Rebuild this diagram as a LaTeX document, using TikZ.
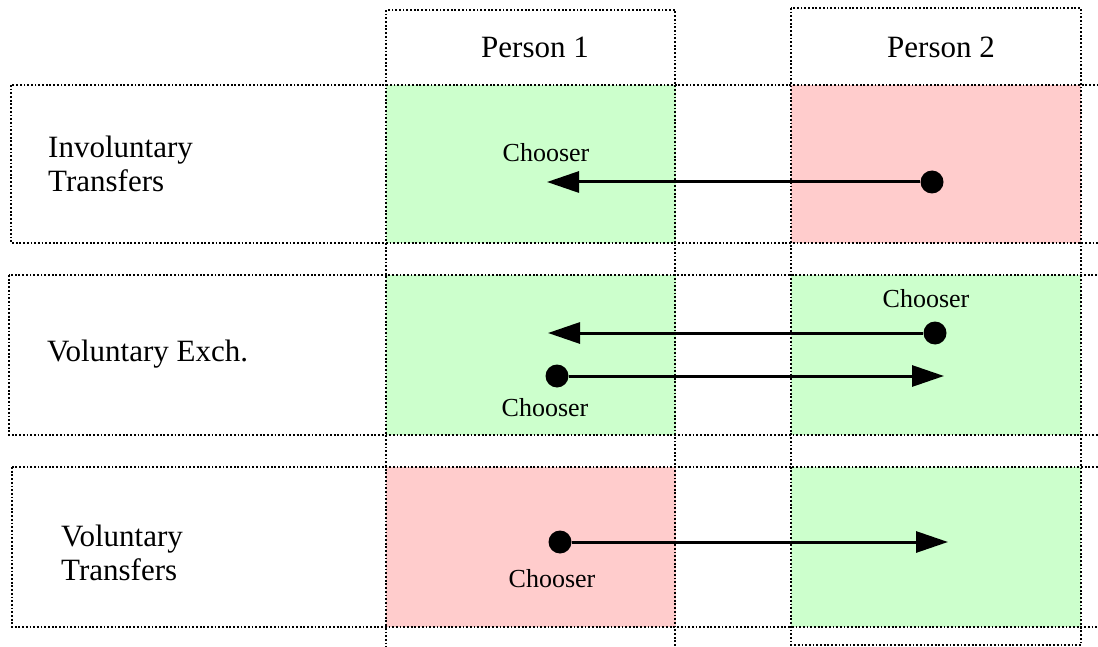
\documentclass[tikz,border=0pt]{standalone}
\usepackage{fontspec}
\setmainfont{Liberation Serif}
\usetikzlibrary{arrows.meta}
\definecolor{okgreen}{HTML}{CCFFCC}
\definecolor{badpink}{HTML}{FFCCCC}
\begin{document}
\begin{tikzpicture}[
    x=1pt, y=-1pt,
    frame/.style={draw, line width=1.8pt, dash pattern=on 1.8pt off 1.9pt},
    cell/.style={fill=#1, draw=none, inner sep=0pt, outer sep=0pt, anchor=north west, minimum width=290pt, minimum height=158pt},
    head/.style={font=\fontsize{31}{34}\selectfont, inner sep=0pt, anchor=base},
    rowlabel/.style={font=\fontsize{31}{34}\selectfont, align=left, inner sep=0pt, anchor=west},
    chooser/.style={font=\fontsize{26}{28}\selectfont, inner sep=0pt, anchor=base},
    dot/.style={circle, fill=black, inner sep=0pt, minimum size=23pt},
    arrow/.style={line width=3pt, -{Triangle[length=32pt, width=21pt]}}
]
    \useasboundingbox (0,0) rectangle (1098,647);

    \node [cell=okgreen]  (invA) at (386,85) {};
    \node [cell=badpink]  (invB) at (791,85) {};
    \node [cell=okgreen, minimum height=160pt]  (excA) at (386,275) {};
    \node [cell=okgreen, minimum height=160pt]  (excB) at (791,275) {};
    \node [cell=badpink, minimum height=160pt]  (volA) at (386,467) {};
    \node [cell=okgreen, minimum height=160pt]  (volB) at (791,467) {};

    \draw [frame] (386,10) rectangle (675,670);
    \draw [frame] (791,8) rectangle (1081,645);
    \draw [frame] (11,85) rectangle (1120,243);
    \draw [frame] (9,275) rectangle (1120,435);
    \draw [frame] (12,467) rectangle (1120,627);

    \node [head] (p1) at (535,58) {Person 1};
    \node [head] (p2) at (941,58) {Person 2};

    \node [rowlabel] (inv) at (48,164) {Involuntary\\Transfers};
    \node [rowlabel, anchor=base west] (exc) at (47,361) {Voluntary Exch.};
    \node [rowlabel] (vol) at (61,553) {Voluntary\\Transfers};

    \node [dot] (d1) at (932,182) {};
    \coordinate (t1) at (547,182);
    \node [chooser] (c1) at (546,162) {Chooser};
    \draw [arrow] (d1) -- (t1);

    \node [dot] (d2) at (935,333) {};
    \coordinate (t2) at (548,333);
    \node [chooser] (c2) at (926,307) {Chooser};
    \draw [arrow] (d2) -- (t2);

    \node [dot] (d3) at (557,376) {};
    \coordinate (t3) at (944,376);
    \node [chooser] (c3) at (545,416) {Chooser};
    \draw [arrow] (d3) -- (t3);

    \node [dot] (d4) at (560,542) {};
    \coordinate (t4) at (948,542);
    \node [chooser] (c4) at (552,587) {Chooser};
    \draw [arrow] (d4) -- (t4);
\end{tikzpicture}
\end{document}
